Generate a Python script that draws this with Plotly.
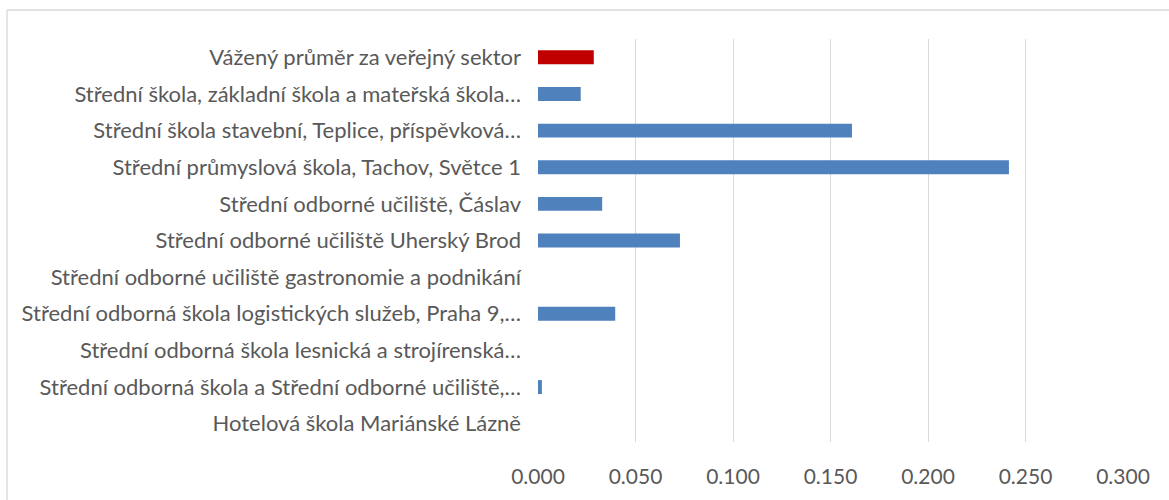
import plotly.graph_objects as go

categories = [
    "Vážený průměr za veřejný sektor",
    "Střední škola, základní škola a mateřská škola…",
    "Střední škola stavební, Teplice, příspěvková…",
    "Střední průmyslová škola, Tachov, Světce 1",
    "Střední odborné učiliště, Čáslav",
    "Střední odborné učiliště Uherský Brod",
    "Střední odborné učiliště gastronomie a podnikání",
    "Střední odborná škola logistických služeb, Praha 9,…",
    "Střední odborná škola lesnická a strojírenská…",
    "Střední odborná škola a Střední odborné učiliště,…",
    "Hotelová škola Mariánské Lázně",
]
values = [0.0286, 0.0219, 0.161, 0.2415, 0.0329, 0.0728, 0.0, 0.0396, 0.0, 0.002, 0.0]
tick_vals = [0.0, 0.05, 0.1, 0.15, 0.2, 0.25, 0.3]
tick_text = ["0.000", "0.050", "0.100", "0.150", "0.200", "0.250", "0.300"]

colors = ["#C00000"] + ["#4F81BD"] * (len(categories) - 1)

W, H = 1169, 500
L, R, T, B = 538, 46, 39, 58

fig = go.Figure(go.Bar(
    y=categories, x=values, orientation="h",
    marker=dict(color=colors, line=dict(width=0)),
))

fig.update_layout(
    width=W, height=H,
    margin=dict(l=L, r=R, t=T, b=B),
    paper_bgcolor="white", plot_bgcolor="white",
    bargap=0.62,
    showlegend=False,
    font=dict(family="Lato, Open Sans, sans-serif", size=22, color="#595959"),
    xaxis=dict(range=[0, 0.3], tickvals=tick_vals, ticktext=tick_text,
               showgrid=True, gridcolor="#D9D9D9", gridwidth=1.3,
               zeroline=False, showline=False, ticks="",
               ticklabelstandoff=20,
               tickfont=dict(size=21, color="#595959")),
    yaxis=dict(autorange="reversed", showgrid=False, zeroline=False,
               showline=False, ticks="", ticklabelstandoff=16,
               tickfont=dict(size=22, color="#595959")),
)

pw = W - L - R
ph = H - T - B
def px_to_x(px):
    return (px - L) / pw
def py_to_y(py):
    return 1 - (py - T) / ph

fig.add_shape(type="line", xref="paper", yref="paper",
              x0=px_to_x(7), x1=px_to_x(W), y0=py_to_y(10), y1=py_to_y(10),
              line=dict(color="#D9D9D9", width=1.3))
fig.add_shape(type="line", xref="paper", yref="paper",
              x0=px_to_x(7), x1=px_to_x(7), y0=py_to_y(10), y1=py_to_y(H),
              line=dict(color="#D9D9D9", width=1.3))

fig.write_html("out.html", config={"displayModeBar": False},
               post_script="document.body.style.margin='0';document.body.style.overflow='hidden';")
